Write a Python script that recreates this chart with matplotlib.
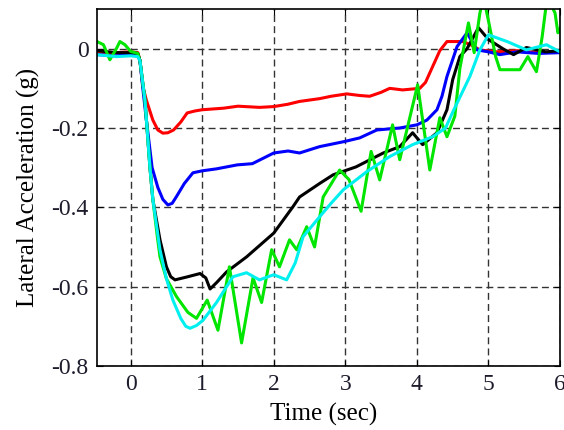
import matplotlib
matplotlib.use('Agg')
import matplotlib.pyplot as plt

# red trace
t_red = [-0.47, -0.2, 0.0, 0.1, 0.13, 0.17, 0.22, 0.31, 0.38, 0.45, 0.52, 0.6, 0.7, 0.79, 0.9, 1.0,
         1.3, 1.5, 1.8, 2.0, 2.2, 2.36, 2.64, 2.8, 3.02, 3.2, 3.34, 3.5, 3.62, 3.8, 4.04, 4.12, 4.22,
         4.32, 4.42, 4.64, 4.75, 4.88, 5.1, 5.4, 5.7, 6.0]
a_red = [-0.01, -0.01, -0.008, -0.01, -0.03, -0.095, -0.13, -0.18, -0.205, -0.213, -0.212, -0.205,
         -0.185, -0.162, -0.157, -0.154, -0.15, -0.145, -0.148, -0.146, -0.14, -0.133, -0.126,
         -0.12, -0.114, -0.118, -0.12, -0.11, -0.1, -0.104, -0.1, -0.085, -0.045, -0.005, 0.018,
         0.018, 0.01, -0.003, -0.008, -0.005, -0.01, -0.008]

# blue trace
t_blue = [-0.47, -0.2, 0.0, 0.1, 0.13, 0.17, 0.22, 0.3, 0.38, 0.45, 0.52, 0.58, 0.64, 0.75, 0.87,
          1.0, 1.2, 1.49, 1.7, 2.0, 2.2, 2.36, 2.64, 2.99, 3.2, 3.44, 3.76, 4.0, 4.14, 4.28, 4.35,
          4.42, 4.56, 4.7, 4.84, 5.0, 5.16, 5.4, 5.7, 6.0]
a_blue = [-0.015, -0.018, -0.015, -0.015, -0.03, -0.1, -0.18, -0.3, -0.35, -0.38, -0.394, -0.39,
          -0.373, -0.34, -0.313, -0.308, -0.303, -0.293, -0.29, -0.263, -0.258, -0.263, -0.247,
          -0.234, -0.225, -0.205, -0.2, -0.192, -0.18, -0.154, -0.12, -0.07, 0.005, 0.04, -0.003,
          -0.008, -0.015, -0.008, -0.012, -0.01]

# black trace
t_black = [-0.47, -0.2, 0.0, 0.1, 0.13, 0.2, 0.27, 0.31, 0.41, 0.5, 0.56, 0.62, 0.8, 0.97, 1.05,
           1.11, 1.2, 1.34, 1.62, 2.0, 2.27, 2.36, 2.64, 2.83, 3.15, 3.53, 3.76, 3.94, 4.08, 4.28,
           4.42, 4.5, 4.6, 4.7, 4.86, 5.0, 5.2, 5.35, 5.53, 5.8, 6.0]
a_black = [-0.005, -0.01, -0.01, -0.012, -0.03, -0.13, -0.3, -0.38, -0.482, -0.55, -0.575, -0.583,
           -0.575, -0.567, -0.578, -0.606, -0.59, -0.563, -0.525, -0.465, -0.398, -0.374, -0.34,
           -0.318, -0.298, -0.263, -0.247, -0.212, -0.242, -0.212, -0.154, -0.078, -0.02, 0.0,
           0.053, 0.023, 0.0, -0.015, 0.003, -0.008, -0.005]

# cyan trace
t_cyan = [-0.47, -0.2, 0.0, 0.1, 0.13, 0.2, 0.27, 0.31, 0.41, 0.5, 0.59, 0.7, 0.77, 0.83, 0.92,
          1.01, 1.2, 1.43, 1.62, 1.8, 2.0, 2.18, 2.3, 2.41, 2.64, 2.8, 2.97, 3.3, 3.62, 3.94, 4.22,
          4.4, 4.5, 4.74, 4.88, 5.0, 5.26, 5.53, 5.81, 6.0]
a_cyan = [-0.015, -0.02, -0.018, -0.02, -0.03, -0.13, -0.3, -0.38, -0.507, -0.58, -0.634, -0.68,
          -0.7, -0.705, -0.698, -0.685, -0.64, -0.575, -0.565, -0.583, -0.57, -0.583, -0.54,
          -0.474, -0.424, -0.39, -0.356, -0.31, -0.272, -0.242, -0.222, -0.2, -0.16, -0.07,
          -0.003, 0.035, 0.018, -0.003, 0.01, -0.008]

# green trace
t_green = [-0.47, -0.38, -0.29, -0.2, -0.15, -0.08, 0.0, 0.1, 0.13, 0.2, 0.27, 0.31, 0.37, 0.41,
           0.5, 0.64, 0.8, 0.92, 1.07, 1.22, 1.38, 1.55, 1.71, 1.83, 1.97, 2.08, 2.22, 2.32, 2.46,
           2.57, 2.69, 2.92, 3.05, 3.22, 3.36, 3.48, 3.66, 3.76, 4.01, 4.18, 4.32, 4.42, 4.53, 4.6,
           4.72, 4.8, 4.88, 4.93, 5.0, 5.1, 5.16, 5.44, 5.55, 5.67, 5.75, 5.82, 5.93, 5.97, 6.0]
a_green = [0.018, 0.01, -0.028, 0.0, 0.018, 0.01, -0.007, -0.012, -0.03, -0.13, -0.3, -0.38, -0.47,
           -0.525, -0.58, -0.625, -0.665, -0.68, -0.634, -0.71, -0.55, -0.742, -0.578, -0.64,
           -0.507, -0.55, -0.482, -0.507, -0.449, -0.5, -0.374, -0.306, -0.33, -0.41, -0.259,
           -0.331, -0.192, -0.28, -0.091, -0.306, -0.174, -0.222, -0.17, -0.05, 0.065, -0.01,
           0.09, 0.13, 0.07, -0.02, -0.053, -0.053, -0.02, -0.058, 0.03, 0.13, 0.09, 0.04, 0.05]

xticks = [0, 1, 2, 3, 4, 5, 6]
yticks = [-0.8, -0.6, -0.4, -0.2, 0]

plt.rcParams['font.family'] = ['Liberation Serif', 'DejaVu Serif']

fig = plt.figure(figsize=(5.64, 4.30), dpi=100)
ax = fig.add_axes([0.172, 0.149, 0.821, 0.830])

lw = 2.2
ax.plot(t_red, a_red, color='#ff0000', lw=lw)
ax.plot(t_blue, a_blue, color='#0000ff', lw=lw)
ax.plot(t_black, a_black, color='#000000', lw=lw)
ax.plot(t_green, a_green, color='#00e600', lw=lw)
ax.plot(t_cyan, a_cyan, color='#00f0f0', lw=lw)

ax.set_xlim(-0.47, 6)
ax.set_ylim(-0.8, 0.1)
ax.set_xticks(xticks)
ax.set_xticklabels([str(v) for v in xticks])
ax.set_yticks(yticks)
ax.set_yticklabels(['-0.8', '-0.6', '-0.4', '-0.2', '0'])
ax.grid(True, color='#333333', lw=1.0, linestyle=(0, (5, 3)))
ax.tick_params(direction='in', length=4, labelsize=17, top=True, right=True,
               labelcolor='#1c1c2c', pad=6)
for s in ax.spines.values():
    s.set_linewidth(1.2)

ax.set_xlabel('Time (sec)', fontsize=18)
ax.xaxis.set_label_coords(0.49, -0.105)
ax.set_ylabel('Lateral Acceleration (g)', fontsize=18, labelpad=8)

fig.savefig('out.png', dpi=100)
